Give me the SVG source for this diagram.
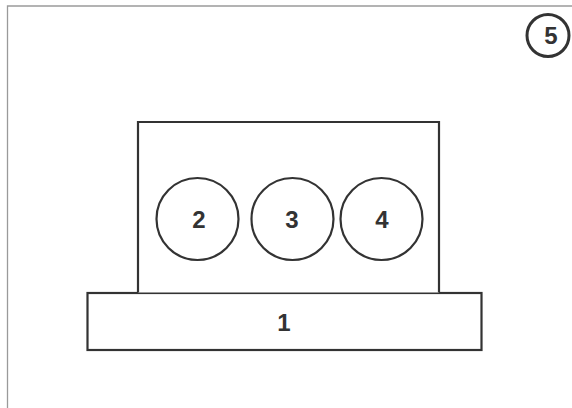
<svg xmlns="http://www.w3.org/2000/svg" width="572" height="408" viewBox="0 0 572 408">
<style>
.s{fill:#fff;stroke:#333;stroke-width:2.2}
.t{font-family:"Liberation Sans",Arial,sans-serif;font-weight:bold;font-size:24px;fill:#333;text-anchor:middle}
.frame{fill:none;stroke:#9a9a9a;stroke-width:1.3}
</style>
<rect width="572" height="408" fill="#fff"/>
<path class="frame" d="M7.5 408 V6 H572"/>
<g id="node5"><circle class="s" style="stroke-width:3" cx="548" cy="35.5" r="21"/><text class="t" x="551" y="43.5">5</text></g>
<g id="node1"><rect class="s" x="87.5" y="293" width="394" height="57"/><text class="t" x="284" y="331">1</text></g>
<g id="block"><path class="s" d="M138 292.5 V122 H439 V292.5"/></g>
<g id="node2"><circle class="s" cx="197.5" cy="219" r="41"/><text class="t" x="199" y="228">2</text></g>
<g id="node3"><circle class="s" cx="292.5" cy="219" r="41"/><text class="t" x="292" y="228">3</text></g>
<g id="node4"><circle class="s" cx="381.5" cy="219" r="41"/><text class="t" x="382" y="228">4</text></g>
<g id="connectors"></g>
</svg>
